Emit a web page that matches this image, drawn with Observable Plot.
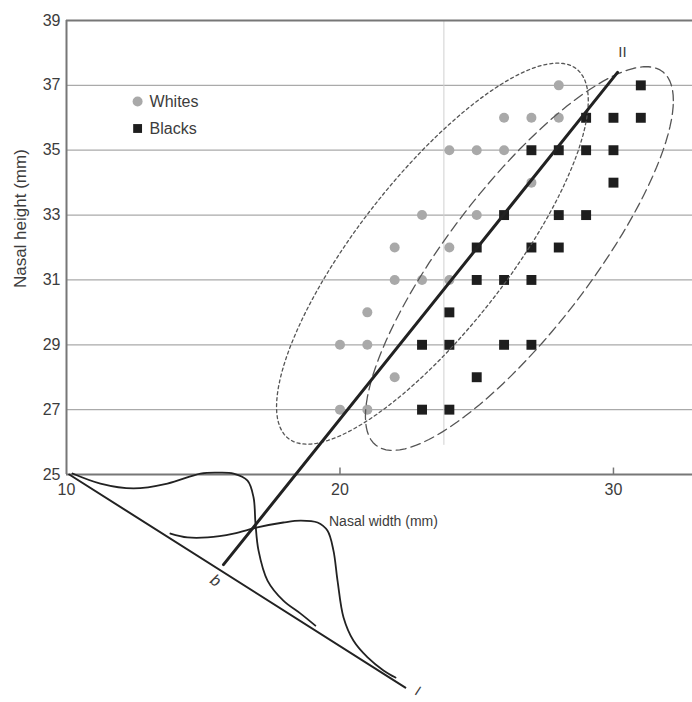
<!DOCTYPE html>
<html><head><meta charset="utf-8">
<script src="https://cdn.jsdelivr.net/npm/d3@7"></script>
<script src="https://cdn.jsdelivr.net/npm/@observablehq/plot@0.6"></script>
<style>body{margin:0;background:#fff;} svg{display:block}</style>
</head><body><div id="chart"></div>
<script>
// ---- data ----
const whitesX = [28, 26,27,28, 24,25,26, 27, 23,25, 22,24, 22,23,24, 21, 20,21, 22, 20,21];
const whitesY = [37, 36,36,36, 35,35,35, 34, 33,33, 32,32, 31,31,31, 30, 29,29, 28, 27,27];
const blacksX = [31, 29,30,31, 27,28,29,30, 30, 26,28,29, 25,27,28, 25,26,27, 24, 23,24,26,27, 25, 23,24];
const blacksY = [37, 36,36,36, 35,35,35,35, 34, 33,33,33, 32,32,32, 31,31,31, 30, 29,29,29,29, 28, 27,27];

const yTicks = [25,27,29,31,33,35,37,39];
const xTicks = [10,20,30];
const gridY = [27,29,31,33,35,37];

// 95% ellipses (centre, conjugate half-axes) in mm
const whitesEllipse = {cx: 23.38, cy: 31.81, ax: 5.70, ay: 4.72, by: 3.50};
const blacksEllipse = {cx: 26.56, cy: 31.66, ax: 5.63, ay: 4.87, by: 3.36};

// discriminant direction (II) and projection axis (I)
const lineIIx = [30.15, 15.74];
const lineIIy = [37.40, 22.22];
const axisIx = [10.1, 22.39];
const axisIy = [25.0, 18.43];

// projected density curves along axis I
const densWx = [10.22,11.24,12.45,13.69,14.90,15.52,16.11,16.62,16.84,16.91,17.02,17.35,17.93,18.56,19.10];
const densWy = [25.03,24.72,24.57,24.72,25.03,25.06,25.03,24.81,24.29,23.49,22.66,21.73,21.11,20.71,20.34];
const densBx = [13.80,14.42,15.16,16.11,16.98,17.93,18.56,19.18,19.54,19.76,19.91,20.13,20.49,21.01,21.59,22.03];
const densBy = [23.18,23.06,23.06,23.18,23.37,23.52,23.58,23.52,23.27,22.66,21.73,20.59,19.88,19.36,18.96,18.74];

const XMIN = 10, XMAX = 32.89, YMIN = 17.97, YMAX = 39;

// ---- build tables ----
const zip = (xs, ys) => xs.map((x, i) => ({x, y: ys[i]}));
const whites = zip(whitesX, whitesY);
const blacks = zip(blacksX, blacksY);
const lineII = zip(lineIIx, lineIIy);
const axisI = zip(axisIx, axisIy);
const densW = zip(densWx, densWy);
const densB = zip(densBx, densBy);
function ellipse(e) {
  return d3.range(0, 361, 3).map(a => {
    const t = a * Math.PI / 180;
    return {x: e.cx + e.ax * Math.cos(t), y: e.cy + e.ay * Math.cos(t) + e.by * Math.sin(t)};
  });
}

const txt = "#3c3c3c";
const chart = Plot.plot({
  width: 692, height: 702,
  marginTop: 20, marginLeft: 66, marginRight: 0, marginBottom: 0,
  x: {domain: [XMIN, XMAX], axis: null},
  y: {domain: [YMIN, YMAX], axis: null},
  style: {fontFamily: "'Liberation Sans', Arial, Helvetica, sans-serif", fontSize: "16px", background: "#fff", overflow: "visible"},
  marks: [
    Plot.ruleY(gridY, {x1: XMIN, x2: XMAX, stroke: "#aaa", strokeWidth: 1.3}),
    Plot.ruleX([23.8], {y1: 25.9, y2: YMAX, stroke: "#d0d0d0", strokeWidth: 1}),
    Plot.ruleY([YMAX], {x1: XMIN, x2: XMAX, stroke: "#777", strokeWidth: 2}),
    Plot.ruleX([XMIN], {y1: 25, y2: YMAX, stroke: "#777", strokeWidth: 2}),
    Plot.ruleY([25], {x1: XMIN, x2: XMAX, stroke: "#777", strokeWidth: 2}),
    Plot.ruleX([20, 30], {y1: 25, y2: 25.2, stroke: "#777", strokeWidth: 1.5}),
    Plot.text(yTicks, {x: XMIN, y: d => d, text: d => String(d), textAnchor: "end", dx: -6, fill: txt, fontSize: 16}),
    Plot.text(xTicks, {x: d => d, y: 25, text: d => String(d), dy: 15, fill: txt, fontSize: 16}),
    Plot.text(["Nasal width (mm)"], {x: 21.59, y: 23.55, fill: txt, fontSize: 14}),
    Plot.text(["Nasal height (mm)"], {x: 8.32, y: 32.89, rotate: -90, fill: txt, fontSize: 17}),

    Plot.dot(whites, {x: "x", y: "y", r: 5, fill: "#a9a9a9"}),
    Plot.dot(blacks, {x: "x", y: "y", symbol: "square", r: 5.6, fill: "#1e1e1e"}),

    Plot.line(ellipse(whitesEllipse), {x: "x", y: "y", stroke: "#555", strokeWidth: 1.3, strokeDasharray: "3,3"}),
    Plot.line(ellipse(blacksEllipse), {x: "x", y: "y", stroke: "#555", strokeWidth: 1.3, strokeDasharray: "10,5"}),

    Plot.line(lineII, {x: "x", y: "y", stroke: "#222", strokeWidth: 3}),
    Plot.line(axisI, {x: "x", y: "y", stroke: "#222", strokeWidth: 2}),
    Plot.line(densW, {x: "x", y: "y", curve: "catmull-rom", stroke: "#222", strokeWidth: 1.8}),
    Plot.line(densB, {x: "x", y: "y", curve: "catmull-rom", stroke: "#222", strokeWidth: 1.8}),

    Plot.text(["II"], {x: 30.33, y: 38.01, fill: txt, fontSize: 15}),
    Plot.text(["b"], {x: 15.45, y: 21.73, rotate: 33, fill: txt, fontSize: 16, fontStyle: "italic"}),
    Plot.text(["I"], {x: 22.85, y: 18.32, rotate: 33, fill: txt, fontSize: 14}),

    // legend
    Plot.dot([{x: 12.6, y: 36.5}], {x: "x", y: "y", r: 5, fill: "#a9a9a9"}),
    Plot.dot([{x: 12.6, y: 35.67}], {x: "x", y: "y", symbol: "square", r: 5, fill: "#1e1e1e"}),
    Plot.text(["Whites"], {x: 12.6, y: 36.5, dx: 12, textAnchor: "start", fill: txt, fontSize: 16}),
    Plot.text(["Blacks"], {x: 12.6, y: 35.67, dx: 12, textAnchor: "start", fill: txt, fontSize: 16})
  ]
});
document.getElementById("chart").appendChild(chart);
</script>
</body></html>
